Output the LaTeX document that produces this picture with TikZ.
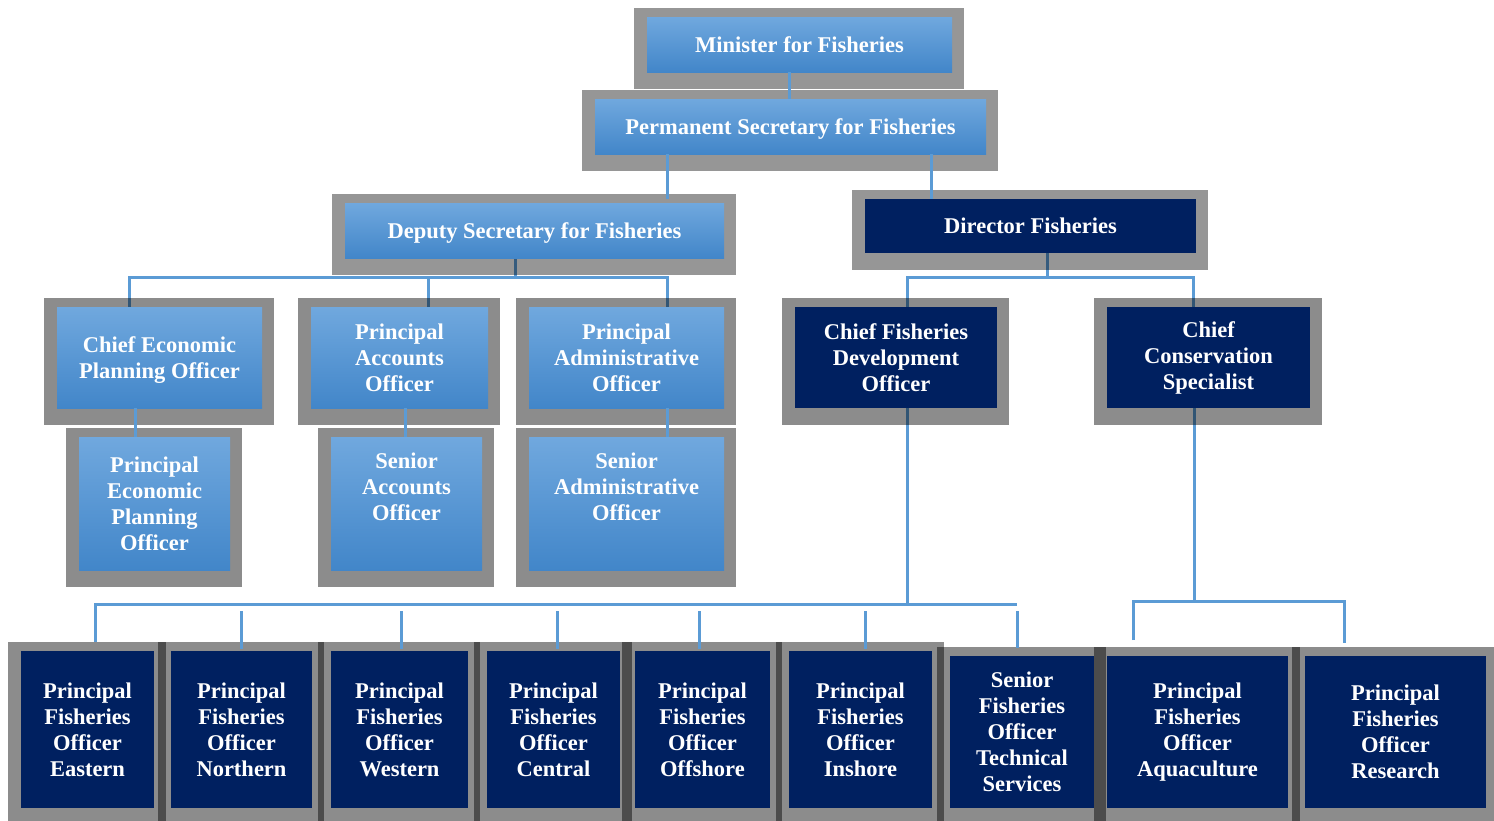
\documentclass[tikz,border=0pt]{standalone}
\usepackage{fontspec}
\setmainfont{Liberation Serif}
\usetikzlibrary{calc}
\definecolor{lbtop}{RGB}{112,168,222}
\definecolor{lbbot}{RGB}{66,134,201}
\definecolor{navy}{RGB}{0,32,96}
\definecolor{connc}{RGB}{91,155,213}
\pgfdeclarelayer{bg}
\pgfdeclarelayer{under}
\pgfdeclarelayer{frames}
\pgfsetlayers{bg,under,frames,main}
\begin{document}
\begin{tikzpicture}[x=1pt,y=-1pt,
  box/.style={inner sep=0pt, outer sep=0pt, align=center, text=white,
    font=\fontsize{22.5}{26}\selectfont\bfseries},
  lb/.style={box, top color=lbtop, bottom color=lbbot},
  nv/.style={box, fill=navy},
  oneline/.style={text depth=0pt},
  conn/.style={draw=connc, line width=3pt},
  shadowframe/.style={fill=black, fill opacity=#1}]
\begin{pgfonlayer}{bg}
\fill[white] (0,0) rectangle (1494,820);
\end{pgfonlayer}
\useasboundingbox (0,0) rectangle (1494,820);
\coordinate (depbus) at (0,277);
\coordinate (dirbus) at (0,277);
\coordinate (lowbus) at (0,604);
\coordinate (droptop) at (0,611);
\coordinate (rbus) at (0,601);

% top
\node[lb, oneline, minimum width=305pt, minimum height=55pt] (min) at (799.5,44.5) {Minister for Fisheries};
\node[lb, oneline, minimum width=391pt, minimum height=55pt] (ps) at (790.5,126.5) {Permanent Secretary for Fisheries};
\node[lb, oneline, minimum width=379pt, minimum height=55pt] (dep) at (534.5,230.5) {Deputy Secretary for Fisheries};
\node[nv, oneline, minimum width=331pt, minimum height=54pt] (dir) at (1030.5,226) {Director Fisheries};
% level 3
\node[lb, minimum width=205pt, minimum height=101pt] (cepo) at (159.5,357.5) {\rule{0pt}{20pt}Chief Economic\\Planning Officer};
\node[lb, minimum width=177pt, minimum height=101pt] (pao) at (399.5,357.5) {Principal\\Accounts\\Officer};
\node[lb, minimum width=195pt, minimum height=101pt] (padm) at (626.5,357.5) {Principal\\Administrative\\Officer};
\node[nv, minimum width=202pt, minimum height=101pt] (cfdo) at (896,357.5) {Chief Fisheries\\Development\\Officer};
\node[nv, minimum width=203pt, minimum height=101pt] (ccs) at (1208.5,357.5) {Chief\\Conservation\\Specialist};
% level 4
\node[lb, minimum width=151pt, minimum height=133pt] (pepo) at (154.5,503.5) {Principal\\Economic\\Planning\\Officer};
\node[lb, minimum width=151pt, minimum height=133pt] (sao) at (406.5,503.5) {Senior\\Accounts\\Officer\\\strut};
\node[lb, minimum width=195pt, minimum height=133pt] (sado) at (626.5,503.5) {Senior\\Administrative\\Officer\\\strut};
% bottom row
\node[nv, minimum width=133pt, minimum height=157pt] (pfoE) at (87.5,729.5) {Principal\\Fisheries\\Officer\\Eastern};
\node[nv, minimum width=141pt, minimum height=157pt] (pfoN) at (241.5,729.5) {Principal\\Fisheries\\Officer\\Northern};
\node[nv, minimum width=137pt, minimum height=157pt] (pfoW) at (399.5,729.5) {Principal\\Fisheries\\Officer\\Western};
\node[nv, minimum width=133pt, minimum height=157pt] (pfoC) at (553.5,729.5) {Principal\\Fisheries\\Officer\\Central};
\node[nv, minimum width=135pt, minimum height=157pt] (pfoOff) at (702.5,729.5) {Principal\\Fisheries\\Officer\\Offshore};
\node[nv, minimum width=143pt, minimum height=157pt] (pfoIn) at (860.5,729.5) {Principal\\Fisheries\\Officer\\Inshore};
\node[nv, minimum width=144pt, minimum height=152pt] (sfo) at (1022,732) {Senior\\Fisheries\\Officer\\Technical\\Services};
\node[nv, minimum width=181pt, minimum height=152pt] (aqua) at (1197.5,732) {Principal\\Fisheries\\Officer\\Aquaculture};
\node[nv, minimum width=181pt, minimum height=152pt] (res) at (1395.5,732) {Principal\\Fisheries\\Officer\\Research};

% frames
\begin{pgfonlayer}{frames}
\foreach \n/\o in {min/0.41,ps/0.41,dep/0.41,dir/0.41,cepo/0.45,pao/0.45,padm/0.45,cfdo/0.45,ccs/0.45,pepo/0.45,sao/0.45,sado/0.45,pfoE/0.45,pfoN/0.45,pfoW/0.45,pfoC/0.45,pfoOff/0.45,pfoIn/0.45,sfo/0.45,aqua/0.45,res/0.45}
  \fill[shadowframe=\o] ($(\n.north west)+(-13,-9)$) rectangle ($(\n.south east)+(12,17)$);
\end{pgfonlayer}

% connectors below frames
\begin{pgfonlayer}{under}
\path ($(dep.south)+(-19.5,0)$) coordinate (d0)
      ($(cepo.north)+(-30.5,0)$) coordinate (d1)
      ($(pao.north)+(28.5,0)$) coordinate (d2)
      ($(padm.north)+(40.5,0)$) coordinate (d3);
\draw[conn] (d0) -- (d0 |- depbus);
\draw[conn] (d1) -- (d1 |- depbus) -- (d3 |- depbus) -- (d3);
\draw[conn] (d2) -- (d2 |- depbus);
\path ($(dir.south)+(16.5,0)$) coordinate (e0)
      ($(cfdo.north)+(11,0)$) coordinate (e1)
      ($(ccs.north)+(-15.5,0)$) coordinate (e2);
\draw[conn] (e0) -- (e0 |- dirbus);
\draw[conn] (e1) -- (e1 |- dirbus) -- (e2 |- dirbus) -- (e2);
\path ($(cfdo.south)+(11,0)$) coordinate (f0);
\draw[conn] (f0) -- (f0 |- lowbus);
\path ($(ccs.south)+(-14.5,0)$) coordinate (g0);
\draw[conn] (g0) -- (g0 |- rbus);
\end{pgfonlayer}

% connectors above frames
\path ($(min.south)+(-10.5,0)$) coordinate (c1);
\draw[conn] (c1) -- (c1 |- ps.north);
\path ($(ps.south)+(-123.5,0)$) coordinate (c2);
\draw[conn] (c2) -- ($(c2 |- dep.north)+(0,-4)$);
\path ($(ps.south)+(140.5,0)$) coordinate (c3);
\draw[conn] (c3) -- (c3 |- dir.north);
\path ($(cepo.south)+(-24.5,0)$) coordinate (h1);
\draw[conn] (h1) -- (h1 |- pepo.north);
\path ($(pao.south)+(5.5,0)$) coordinate (h2);
\draw[conn] (h2) -- (h2 |- sao.north);
\path ($(padm.south)+(40.5,0)$) coordinate (h3);
\draw[conn] (h3) -- (h3 |- sado.north);
% lower bus
\path ($(pfoE.north)+(7.5,0)$) coordinate (b1)
      ($(sfo.north)+(-5,0)$) coordinate (b7);
\draw[conn] ($(b1)+(0,-9)$) -- (b1 |- lowbus) -- (b7 |- lowbus);
\draw[conn] (b7 |- droptop) -- ($(b7)+(0,-8)$);
\foreach \n/\dx in {pfoN/-0.5,pfoW/1.5,pfoC/3.5,pfoOff/-3.5,pfoIn/4.5}{
  \path ($(\n.north)+(\dx,0)$) coordinate (t);
  \draw[conn] (t |- droptop) -- ($(t)+(0,-2)$);
}
% right bus
\path ($(aqua.north)+(-64.5,0)$) coordinate (r1)
      ($(res.north)+(-51.5,0)$) coordinate (r2);
\draw[conn] ($(r1)+(0,-16)$) -- (r1 |- rbus) -- (r2 |- rbus) -- ($(r2)+(0,-13)$);
\end{tikzpicture}
\end{document}
